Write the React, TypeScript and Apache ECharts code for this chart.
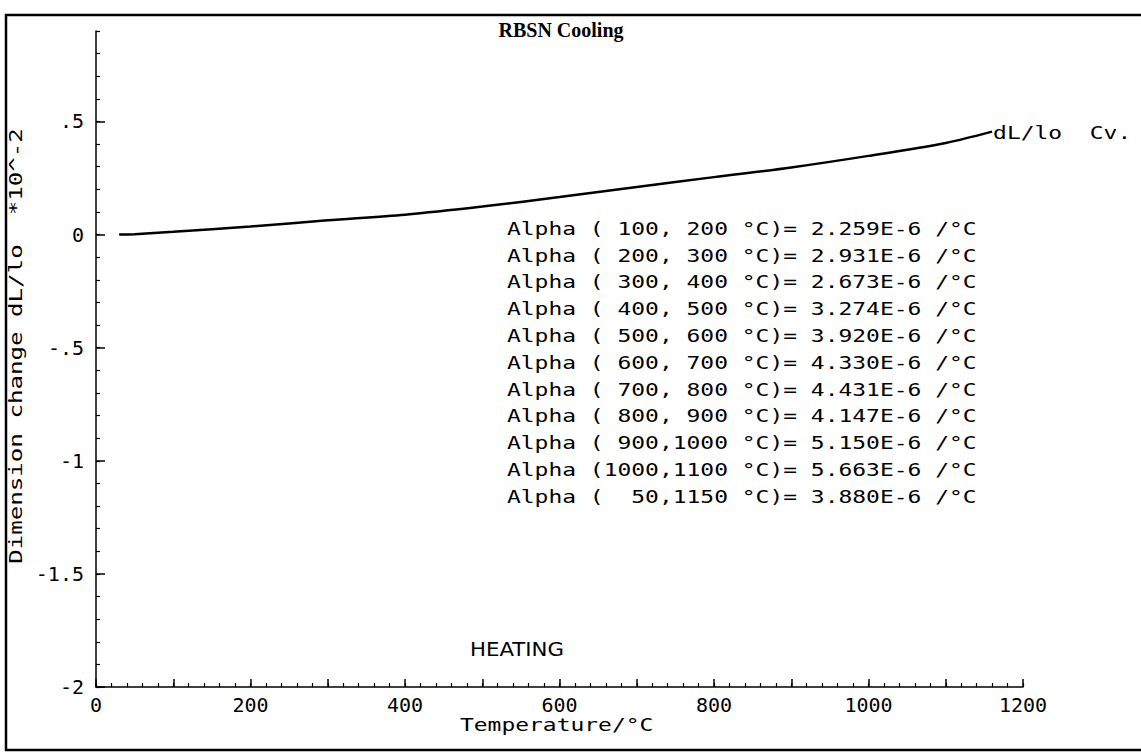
import React, { useEffect, useRef } from "react";
import * as echarts from "echarts";

const temps = [30, 50, 100, 200, 300, 400, 500, 600, 700, 800, 900, 1000, 1100, 1160];
const dLlo = [0, 0.002, 0.012, 0.036, 0.063, 0.088, 0.124, 0.166, 0.21, 0.254, 0.297, 0.348, 0.405, 0.455];

const rangeLo = [100, 200, 300, 400, 500, 600, 700, 800, 900, 1000, 50];
const rangeHi = [200, 300, 400, 500, 600, 700, 800, 900, 1000, 1100, 1150];
const alphaVals = ["2.259E-6", "2.931E-6", "2.673E-6", "3.274E-6", "3.920E-6", "4.330E-6", "4.431E-6", "4.147E-6", "5.150E-6", "5.663E-6", "3.880E-6"];

const yMajorTicks = [-2, -1.5, -1, -0.5, 0, 0.5];
const yTickLabels = ["-2", "-1.5", "-1", "-.5", "0", ".5"];
const xMajorStep = 200;

const MONO = "DejaVu Sans Mono";
const SX = 1.35;

export default function App() {
  const ref = useRef<HTMLDivElement>(null);
  useEffect(() => {
    document.body.style.margin = "0";
    const chart = echarts.init(ref.current!, null, { renderer: "svg" });
    const gridBox = { left: 96, right: 118, top: 31, bottom: 66 };
    const yMinor: number[] = [];
    for (let k = 0; k <= 29; k++) yMinor.push(Math.round((-2 + k * 0.1) * 10) / 10);
    const xMid: number[] = [];
    for (let v = 0; v <= 1200; v += 100) xMid.push(v);

    const alphaLines = rangeLo.map((lo, i) =>
      "Alpha (" + String(lo).padStart(4, " ") + "," + String(rangeHi[i]).padStart(4, " ") + " °C)= " + alphaVals[i] + " /°C"
    );

    const txt = (text: string, x: number, y: number, sx: number = SX) => ({
      type: "text",
      x,
      y,
      scaleX: sx,
      silent: true,
      style: { text, fill: "#000", font: `17px "${MONO}"`, textVerticalAlign: "middle" },
    });

    chart.setOption({
      animation: false,
      backgroundColor: "#fff",
      grid: [{ ...gridBox }, { ...gridBox }],
      xAxis: [
        {
          type: "value", gridIndex: 0, min: 0, max: 1200, interval: 20,
          axisLine: { show: true, onZero: false, lineStyle: { color: "#000", width: 1.5 } },
          axisTick: { show: true, inside: true, length: 4, lineStyle: { color: "#000", width: 1.2 } },
          axisLabel: {
            show: true, color: "#000", fontFamily: MONO, fontSize: 20, margin: 8,
            formatter: (v: number) => (v % xMajorStep === 0 ? String(v) : ""),
          },
          splitLine: { show: false },
        },
        {
          type: "value", gridIndex: 1, min: 0, max: 1200, interval: 100,
          axisLine: { show: false, onZero: false },
          axisTick: { show: true, inside: true, length: 8, customValues: xMid, lineStyle: { color: "#000", width: 1.5 } },
          axisLabel: { show: false },
          splitLine: { show: false },
        },
      ],
      yAxis: [
        {
          type: "value", gridIndex: 0, min: -2, max: 0.9, interval: 0.1,
          axisLine: { show: true, onZero: false, lineStyle: { color: "#000", width: 1.5 } },
          axisTick: { show: true, inside: true, length: 4, customValues: yMinor, lineStyle: { color: "#000", width: 1.2 } },
          axisLabel: {
            show: true, color: "#000", fontFamily: MONO, fontSize: 20, margin: 12,
            customValues: yMajorTicks,
            formatter: (v: number) => {
              const i = yMajorTicks.findIndex((t) => Math.abs(t - v) < 1e-6);
              return i >= 0 ? yTickLabels[i] : "";
            },
          },
          splitLine: { show: false },
        },
        {
          type: "value", gridIndex: 1, min: -2, max: 0.9, interval: 0.5,
          axisLine: { show: false, onZero: false },
          axisTick: { show: true, inside: true, length: 9, customValues: yMajorTicks, lineStyle: { color: "#000", width: 1.5 } },
          axisLabel: { show: false },
          splitLine: { show: false },
        },
      ],
      series: [
        {
          type: "line",
          xAxisIndex: 0,
          yAxisIndex: 0,
          data: temps.map((t, i) => [t, dLlo[i]]),
          smooth: 0.3,
          showSymbol: false,
          lineStyle: { color: "#000", width: 2.5 },
        },
      ],
    });

    const last = chart.convertToPixel({ gridIndex: 0 }, [temps[temps.length - 1], dLlo[dLlo.length - 1]]) as number[];

    const graphics: any[] = [
      {
        type: "polyline", silent: true,
        shape: { points: [[1150, 15], [6, 15], [6, 750], [1150, 750]] },
        style: { stroke: "#000", lineWidth: 2.5, fill: null },
      },
      {
        type: "text", x: 561, y: 30, silent: true,
        style: { text: "RBSN Cooling", fill: "#000", font: 'bold 20px "Liberation Serif"', textAlign: "center", textVerticalAlign: "middle" },
      },
      txt("dL/lo  Cv.", last[0] + 1, last[1] + 1),
      txt("Temperature/°C", 460, 725),
      {
        type: "text", x: 16, y: 346, rotation: Math.PI / 2, scaleX: 1.42, silent: true,
        style: { text: "Dimension change dL/lo  *10^-2", fill: "#000", font: `17px "${MONO}"`, textAlign: "center", textVerticalAlign: "middle" },
      },
      {
        type: "text", x: 470, y: 649, scaleX: 1.12, silent: true,
        style: { text: "HEATING", fill: "#000", font: '19px "DejaVu Sans"', textVerticalAlign: "middle" },
      },
    ];
    alphaLines.forEach((line, i) => graphics.push(txt(line, 507, 229 + i * 26.8)));
    chart.setOption({ graphic: graphics });

    return () => chart.dispose();
  }, []);
  return <div ref={ref} style={{ width: 1141, height: 753 }} />;
}
